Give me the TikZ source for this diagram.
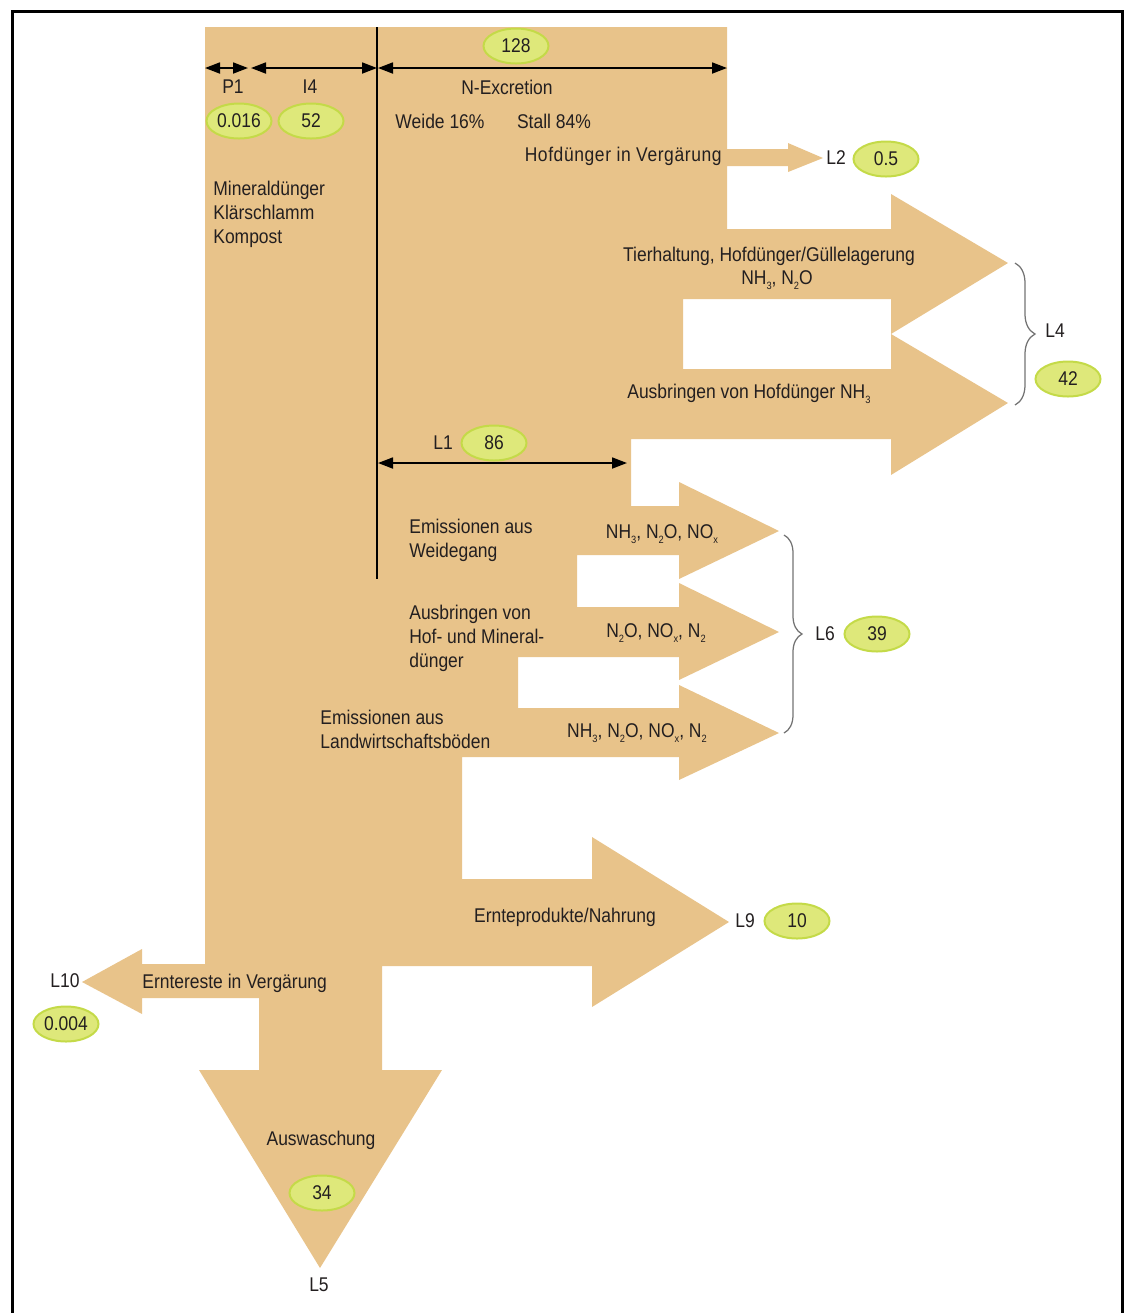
\documentclass[tikz,border=0pt]{standalone}
\usepackage{fontspec}
\setmainfont{Liberation Sans}[FakeStretch=0.88]
\usetikzlibrary{arrows.meta,shapes.geometric,decorations.pathreplacing}
\definecolor{flowtan}{RGB}{232,195,138}
\definecolor{valfill}{RGB}{222,232,122}
\definecolor{valedge}{RGB}{196,218,72}
\definecolor{txtdark}{RGB}{35,31,32}
\newcommand{\lo}[1]{\raisebox{-0.45ex}{\fontsize{6}{6}\selectfont #1}}

\begin{document}
\begin{tikzpicture}[x=0.2mm,y=-0.2mm,>={Triangle[length=3mm,width=2.2mm]},
txt/.style={font=\fontsize{11.3}{13.7}\selectfont,text=txtdark,inner sep=0pt},
lft/.style={txt,anchor=west,align=left},
val/.style={txt,ellipse,draw=valedge,fill=valfill,line width=0.4mm,minimum width=13mm,minimum height=7mm},
dim/.style={<->,line width=0.35mm},
curly/.style={decorate,decoration={brace,amplitude=#1},draw=black!55,line width=0.25mm}]
\useasboundingbox (0,0) rectangle (1125,1313);
\draw[line width=0.6mm] (12,1313) -- (12,11) -- (1122,11) -- (1122,1313);

% nitrogen flow body
\fill[flowtan] (205,27) -- (727,27) -- (727,149) -- (788,149) -- (788,143) -- (823,158) -- (788,172) -- (788,166)
  -- (727,166) -- (727,229) -- (891,229) -- (891,194) -- (1008,263) -- (891,334) -- (891,299) -- (683,299)
  -- (683,369) -- (891,369) -- (891,334) -- (1008,403) -- (891,475) -- (891,439) -- (631,439) -- (631,506)
  -- (679,506) -- (679,482) -- (779,531) -- (679,579) -- (679,555) -- (577,555) -- (577,607) -- (679,607)
  -- (679,583) -- (779,632) -- (679,680) -- (679,657) -- (518,657) -- (518,708) -- (679,708) -- (679,685)
  -- (779,733) -- (679,780) -- (679,757) -- (462,757) -- (462,879) -- (592,879) -- (592,837) -- (729,922)
  -- (592,1007) -- (592,966) -- (382,966) -- (382,1070) -- (442,1070) -- (320,1268) -- (199,1070)
  -- (259,1070) -- (259,998) -- (142,998) -- (142,1014) -- (82,982) -- (142,949) -- (142,964) -- (205,964) -- cycle;

\coordinate (top) at (377,27); \coordinate (bot) at (377,579);
\draw[line width=0.25mm] (top) -- (bot);
\coordinate (p1a) at (205,68); \coordinate (p1b) at (248,68);
\coordinate (i4a) at (251,68); \coordinate (i4b) at (377,68);
\coordinate (nxa) at (378,68); \coordinate (nxb) at (727,68);
\coordinate (l1a) at (378,463); \coordinate (l1b) at (627,463);
\draw[dim] (p1a) -- (p1b); \draw[dim] (i4a) -- (i4b); \draw[dim] (nxa) -- (nxb); \draw[dim] (l1a) -- (l1b);

\node[val] (v128) at (516,46) {128};
\node[txt] (p1) at (233,87) {P1};
\node[txt] (i4) at (310,87) {I4};
\node[txt] (nex) at (507,87) {N-Excretion};
\node[val] (v0016) at (239,121) {0.016};
\node[val] (v52) at (311,121) {52};
\node[txt] (weide) at (440,121) {Weide 16\%};
\node[txt] (stall) at (554,121) {Stall 84\%};
\node[txt,anchor=east] (hofv) at (722,156) {\addfontfeature{LetterSpace=3}Hofdünger in Vergärung};
\node[txt] (l2) at (836,158) {L2};
\node[val] (v05) at (886,159) {0.5};
\node[lft] (mineral) at (213,214) {Mineraldünger\\Klärschlamm\\Kompost};

\node[txt] (tier) at (769,256) {Tierhaltung, Hofdünger/Güllelagerung};
\node[txt] (gas0) at (777,280) {NH\lo{3}, N\lo{2}O};
\node[lft] (ausb) at (627,394) {Ausbringen von Hofdünger NH\lo{3}};
\coordinate (b4a) at (1015,263); \coordinate (b4b) at (1015,405);
\draw[curly=4mm] (b4a) -- (b4b);
\node[txt] (l4) at (1055,331) {L4};
\node[val] (v42) at (1068,379) {42};

\node[txt] (l1) at (443,443) {L1};
\node[val] (v86) at (494,443) {86};
\node[lft] (emw) at (409,540) {Emissionen aus\\Weidegang};
\node[txt] (gas1) at (662,534) {NH\lo{3}, N\lo{2}O, NO\lo{x}};
\node[lft] (ausm) at (409,638) {Ausbringen von\\Hof- und Mineral-\\dünger};
\node[txt] (gas2) at (656,633) {N\lo{2}O, NO\lo{x}, N\lo{2}};
\node[lft] (emb) at (320,729) {Emissionen aus\\Landwirtschaftsböden};
\node[txt] (gas3) at (637,733) {NH\lo{3}, N\lo{2}O, NO\lo{x}, N\lo{2}};
\coordinate (b6a) at (784,535); \coordinate (b6b) at (784,733);
\draw[curly=3.6mm] (b6a) -- (b6b);
\node[txt] (l6) at (825,634) {L6};
\node[val] (v39) at (877,634) {39};

\node[txt] (ernte) at (565,917) {Ernteprodukte/Nahrung};
\node[txt] (l9) at (745,921) {L9};
\node[val] (v10) at (797,921) {10};
\node[lft] (rest) at (142,983) {Erntereste in Vergärung};
\node[txt] (l10) at (65,981) {L10};
\node[val] (v0004) at (66,1024) {0.004};
\node[txt] (ausw) at (321,1140) {Auswaschung};
\node[val] (v34) at (322,1193) {34};
\node[txt] (l5) at (319,1285) {L5};
\end{tikzpicture}
\end{document}
